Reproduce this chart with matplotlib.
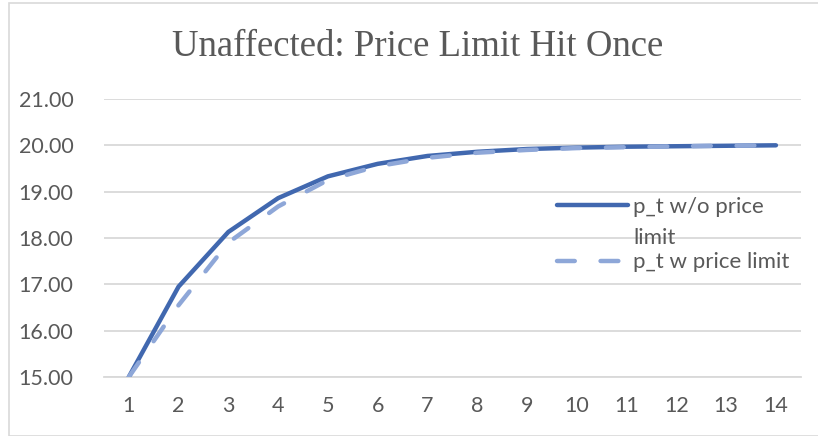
import matplotlib.pyplot as plt
from matplotlib.patches import Rectangle

# data
periods = list(range(1, 15))
p_no_limit = [15.00, 16.95, 18.13, 18.86, 19.33, 19.60, 19.77,
              19.86, 19.92, 19.95, 19.97, 19.98, 19.99, 20.00]
p_limit = [15.00, 16.55, 17.90, 18.68, 19.25, 19.55, 19.73,
           19.84, 19.90, 19.94, 19.96, 19.98, 19.99, 20.00]
yticks = [15, 16, 17, 18, 19, 20, 21]

title = 'Unaffected: Price Limit Hit Once'
labels = ['p_t w/o price', 'p_t w price limit']
label_wrap = 'limit'  # Excel wraps the first legend entry

grey = '#595959'
c_solid = '#4168AF'
c_dash = '#8EA7D8'

fig = plt.figure(figsize=(8.18, 4.36), dpi=100)
ax = fig.add_axes([0.127, 0.1353, 0.852, 0.6377])

# chart border (Excel style)
fig.patches.append(Rectangle((9 / 818, 0.0), 1.2, 1 - 3 / 436, transform=fig.transFigure,
                             fill=False, edgecolor='#d9d9d9', linewidth=1.2))

x = list(range(len(periods)))
ax.plot(x, p_no_limit, color=c_solid, lw=3.2, solid_capstyle='round',
        solid_joinstyle='round', label=labels[0], zorder=3)
ax.plot(x, p_limit, color=c_dash, lw=3.2, dashes=[4.0, 5.8], dash_capstyle='round',
        label=labels[1], zorder=4)

ax.set_xlim(-0.5, len(periods) - 0.5)
ax.set_ylim(15, 21)
ax.set_yticks(yticks)
ax.set_yticklabels(['%.2f' % v for v in yticks])
ax.set_xticks(x)
ax.set_xticklabels([str(p) for p in periods])

ax.yaxis.grid(True, color='#d9d9d9', lw=1.3)
ax.set_axisbelow(True)
for s in ['top', 'right', 'left']:
  ax.spines[s].set_visible(False)
ax.spines['bottom'].set_color('#d9d9d9')
ax.spines['bottom'].set_linewidth(1.3)
ax.tick_params(length=0, labelsize=15.5, labelcolor=grey, pad=14)
ax.tick_params(axis='y', pad=22)
for t in ax.get_xticklabels() + ax.get_yticklabels():
  t.set_family('Lato')

fig.text(0.51, 0.893, title, ha='center', va='center', fontsize=26.5,
         family='Liberation Serif', color=grey)

leg = ax.legend(loc='upper left', bbox_to_anchor=(0.622, 0.72), frameon=False,
                handlelength=3.2, handletextpad=0.2, labelspacing=1.6,
                prop={'family': 'Lato', 'size': 16})
for t in leg.get_texts():
  t.set_color(grey)

# second line of the wrapped legend label, placed under the first entry text
fig.canvas.draw()
bb = leg.get_texts()[0].get_window_extent().transformed(fig.transFigure.inverted())
fig.text(bb.x0, bb.y0 - 0.025, label_wrap, ha='left', va='top', color=grey,
         family='Lato', fontsize=16)

fig.savefig('out.png', dpi=100)
